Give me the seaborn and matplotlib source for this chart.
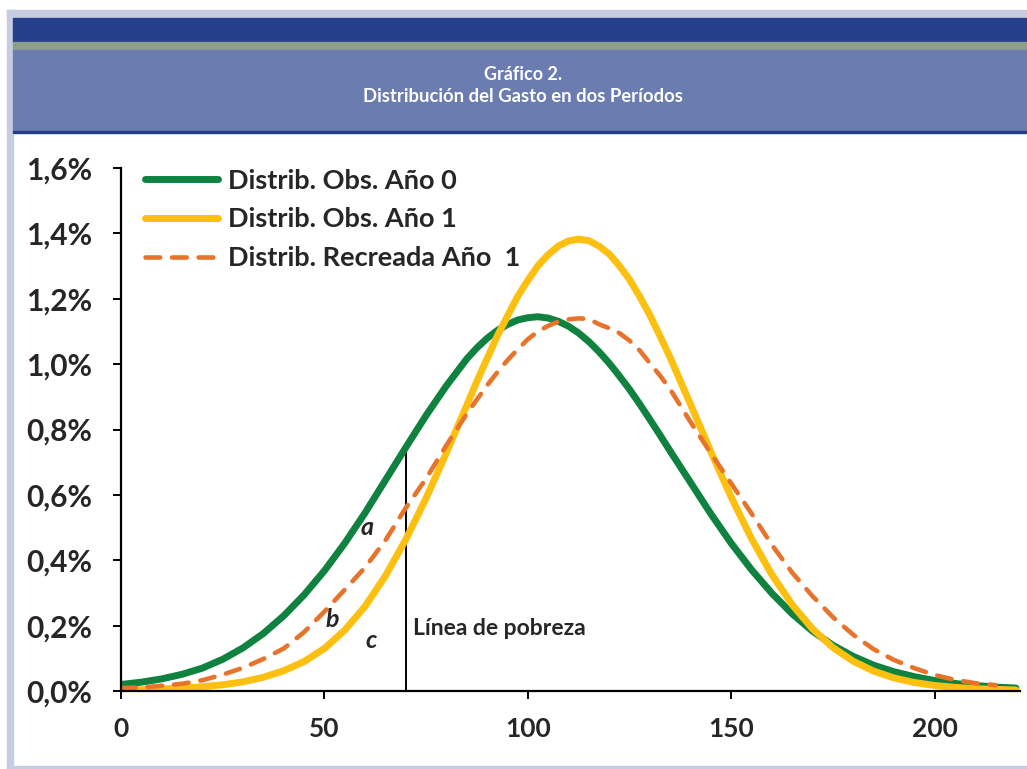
import seaborn as sns
import pandas as pd
import matplotlib.pyplot as plt
from matplotlib.patches import Rectangle

# gasto (eje x) y densidades en %; más puntos cerca del máximo
gasto = ([0, 5, 10, 15, 20, 25, 30, 35, 40, 45, 50, 55, 60, 65, 70, 75, 80]
         + [85, 87.5, 90, 92.5, 95, 97.5, 100, 102.5, 105, 107.5, 110, 112.5, 115,
            117.5, 120, 122.5, 125, 127.5, 130, 132.5, 135]
         + [140, 145, 150, 155, 160, 165, 170, 175, 180, 185, 190, 195, 200, 205,
            210, 215, 220])
obs_ano0 = [0.020, 0.027, 0.037, 0.051, 0.070, 0.097, 0.132, 0.176, 0.230, 0.294,
            0.368, 0.452, 0.545, 0.645, 0.745, 0.843, 0.934,
            1.016, 1.050, 1.079, 1.103, 1.121, 1.135, 1.142, 1.145, 1.141, 1.131,
            1.116, 1.095, 1.069, 1.038, 1.003, 0.964, 0.923, 0.878, 0.831, 0.783, 0.734,
            0.638, 0.542, 0.452, 0.371, 0.299, 0.236, 0.183, 0.140, 0.106, 0.079,
            0.059, 0.044, 0.032, 0.023, 0.017, 0.012, 0.009]
obs_ano1 = [0.003, 0.004, 0.006, 0.009, 0.013, 0.019, 0.028, 0.042, 0.062, 0.090,
            0.130, 0.186, 0.259, 0.352, 0.463, 0.590, 0.729,
            0.874, 0.948, 1.017, 1.086, 1.147, 1.207, 1.256, 1.301, 1.335, 1.361,
            1.377, 1.382, 1.378, 1.361, 1.337, 1.301, 1.259, 1.207, 1.150, 1.086, 1.020,
            0.877, 0.732, 0.593, 0.466, 0.356, 0.264, 0.190, 0.133, 0.091, 0.061,
            0.040, 0.026, 0.017, 0.011, 0.007, 0.005, 0.003]
gasto_rec = gasto[:-1]
recreada_ano1 = [0.009, 0.011, 0.016, 0.022, 0.033, 0.050, 0.071, 0.098, 0.130, 0.180,
                 0.243, 0.310, 0.378, 0.461, 0.560, 0.650, 0.752,
                 0.848, 0.892, 0.935, 0.975, 1.012, 1.045, 1.076, 1.100, 1.117, 1.130,
                 1.137, 1.140, 1.138, 1.122, 1.110, 1.095, 1.072, 1.042, 1.003, 0.965, 0.923,
                 0.823, 0.727, 0.635, 0.543, 0.447, 0.362, 0.290, 0.226, 0.172, 0.128,
                 0.095, 0.070, 0.049, 0.034, 0.024, 0.018]

linea_pobreza = 70
linea_pobreza_top = 0.73

y_ticks = [0.0, 0.2, 0.4, 0.6, 0.8, 1.0, 1.2, 1.4, 1.6]
y_labels = ["0,0%", "0,2%", "0,4%", "0,6%", "0,8%", "1,0%", "1,2%", "1,4%", "1,6%"]
x_ticks = [0, 50, 100, 150, 200]

labels = ["Distrib. Obs. Año 0", "Distrib. Obs. Año 1", "Distrib. Recreada Año  1"]

sns.set_theme(style="white")
plt.rcParams['font.family'] = ['Lato', 'DejaVu Sans']

fig = plt.figure(figsize=(10.27, 7.69), dpi=100)
W, H = 1027, 769

def band(x0, y0, x1, y1, color):
    # rectangle in pixel coords (y from top)
    fig.patches.append(Rectangle((x0 / W, 1 - y1 / H), (x1 - x0) / W, (y1 - y0) / H,
                                 transform=fig.transFigure, color=color, zorder=0))

band(7, 10, W, 18, "#c8cce3")
band(7, 10, 13, H, "#c8cce3")
band(7, 766, W, H, "#c8cce3")
band(13, 18, W, 42, "#253f8c")
band(13, 42, W, 50, "#8c9f8a")
band(13, 50, W, 131, "#6b7db0")
band(13, 131, W, 133, "#253f8c")

fig.text(523 / W, 1 - 75 / H, "Gráfico 2.", color="white", fontsize=13,
         fontweight="bold", ha="center", va="center")
fig.text(523 / W, 1 - 97 / H, "Distribución del Gasto en dos Períodos", color="white",
         fontsize=13.3, fontweight="bold", ha="center", va="center")

ax = fig.add_axes([121 / W, 1 - 691 / H, 899 / W, 523 / H])

sns.lineplot(x=gasto, y=obs_ano0, ax=ax, color="#0f8240", lw=5, label=labels[0],
             solid_capstyle="round")
sns.lineplot(x=gasto, y=obs_ano1, ax=ax, color="#fdc010", lw=5, label=labels[1],
             solid_capstyle="round")
sns.lineplot(x=gasto_rec, y=recreada_ano1, ax=ax, color="#e8732a", lw=3.3,
             linestyle=(0, (3.2, 2.6)), dash_capstyle="round", label=labels[2])

ax.vlines(linea_pobreza, 0, linea_pobreza_top, color="black", lw=1.4, zorder=1)

ax.text(71.8, 0.19, "Línea de pobreza", fontsize=16.5, fontweight="bold",
        ha="left", va="center")
ax.text(60.5, 0.50, "a", fontsize=18, fontweight="bold", fontstyle="italic",
        ha="center", va="center")
ax.text(52, 0.22, "b", fontsize=18, fontweight="bold", fontstyle="italic",
        ha="center", va="center")
ax.text(61.5, 0.155, "c", fontsize=18, fontweight="bold", fontstyle="italic",
        ha="center", va="center")

ax.set_xlim(0, 221)
ax.set_ylim(0, 1.6)
ax.set_yticks(y_ticks)
ax.set_yticklabels(y_labels)
ax.set_xticks(x_ticks)
ax.set_xlabel("")
ax.set_ylabel("")
ax.set_facecolor("white")

for s in ["top", "right"]:
    ax.spines[s].set_visible(False)
for s in ["left", "bottom"]:
    ax.spines[s].set_color("black")
    ax.spines[s].set_linewidth(1.6)

ax.tick_params(axis="y", which="major", direction="out", length=6, width=1.4,
               color="black", pad=15, left=True)
ax.tick_params(axis="x", which="major", direction="out", length=6, width=1.4,
               color="black", pad=13, bottom=True)
for t in ax.get_yticklabels():
    t.set_fontsize(21.5)
    t.set_fontweight("bold")
for t in ax.get_xticklabels():
    t.set_fontsize(19)
    t.set_fontweight("bold")

leg = ax.legend(loc="upper left", bbox_to_anchor=(0.027, 0.999), frameon=False,
                borderaxespad=0, borderpad=0, handlelength=2.7, handletextpad=0.37,
                labelspacing=0.55, prop={"size": 19.5, "weight": "bold"})

plt.savefig("out.png", dpi=100)
